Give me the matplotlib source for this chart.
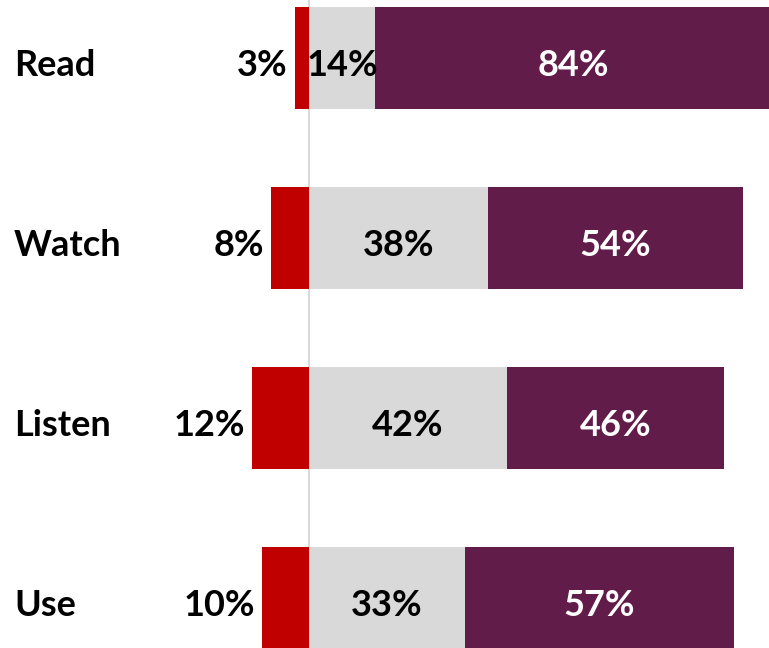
import matplotlib
matplotlib.use("Agg")
import matplotlib.pyplot as plt
import matplotlib.transforms as mtransforms

categories = ["Read", "Watch", "Listen", "Use"]
negative = [3, 8, 12, 10]
neutral = [14, 38, 42, 33]
positive = [84, 54, 46, 57]

RED = "#C00000"
GRAY = "#D9D9D9"
PURPLE = "#621C4A"
FONT = "Lato"

fig = plt.figure(figsize=(7.69, 6.48), dpi=100)
ax = fig.add_axes([0, 0, 1, 1])

y = list(range(len(categories)))
h = 0.567

ax.axvline(0, color=GRAY, lw=1.5, zorder=0)
ax.barh(y, [-v for v in negative], height=h, color=RED, zorder=2)
ax.barh(y, neutral, height=h, color=GRAY, zorder=2)
ax.barh(y, positive, left=neutral, height=h, color=PURPLE, zorder=2)

trans = mtransforms.blended_transform_factory(ax.transAxes, ax.transData)
dy = 0.1
fs = 26
for i, cat in enumerate(categories):
    ax.text(14 / 769, i + dy, cat, transform=trans, ha="left", va="baseline",
            fontsize=fs, fontweight="bold", family=FONT)
    ax.text(-negative[i] - 1.5, i + dy, f"{negative[i]}%", ha="right", va="baseline",
            fontsize=fs, fontweight="bold", family=FONT)
    ax.text(neutral[i] / 2, i + dy, f"{neutral[i]}%", ha="center", va="baseline",
            fontsize=fs, fontweight="bold", family=FONT, zorder=3)
    ax.text(neutral[i] + positive[i] / 2, i + dy, f"{positive[i]}%", ha="center",
            va="baseline", fontsize=fs, fontweight="bold", family=FONT,
            color="white", zorder=3)

ax.set_xlim(-65.5, 97.5)
ax.set_ylim(3.278, -0.322)
ax.axis("off")

fig.savefig("out.png", dpi=100)
